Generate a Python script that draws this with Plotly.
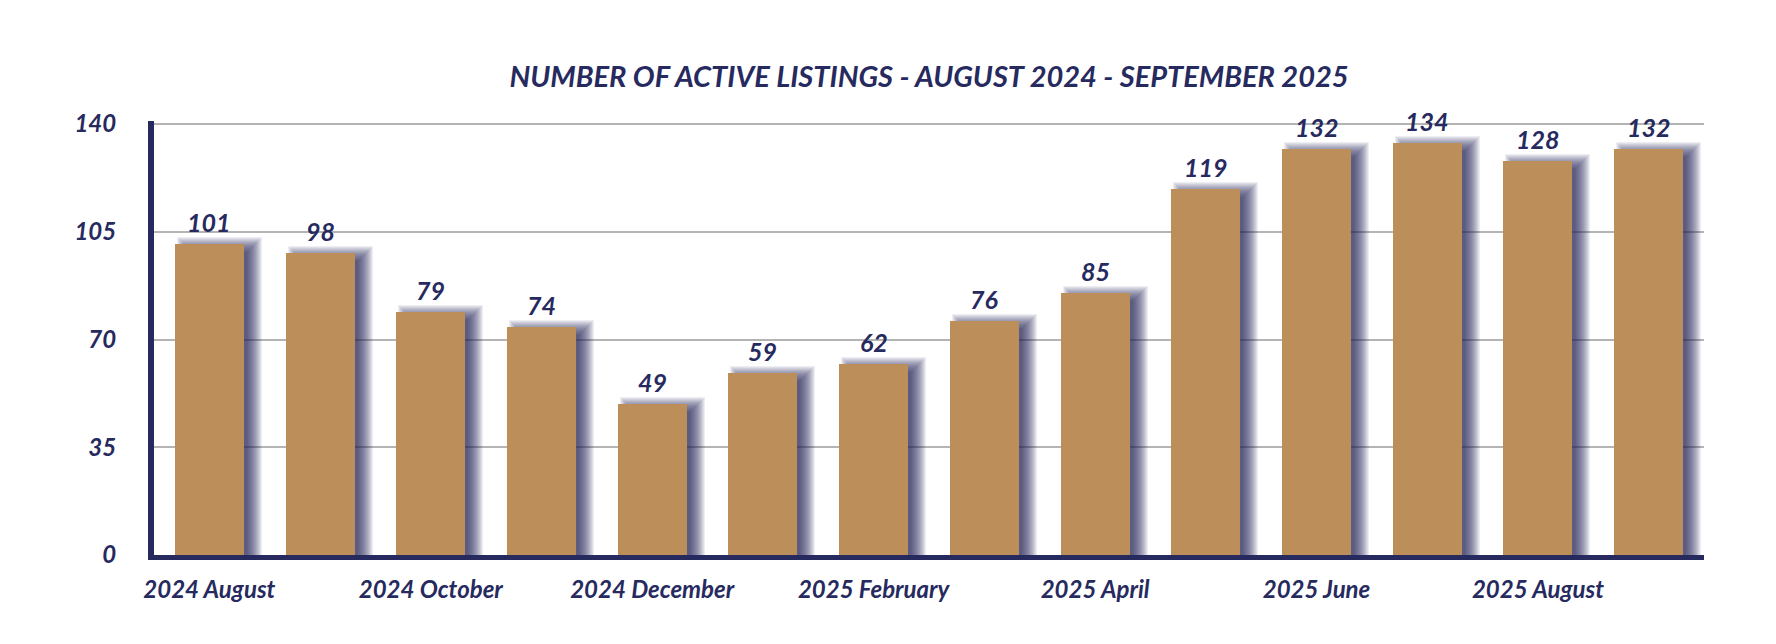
import plotly.graph_objects as go

# ---- data ----
months = ["2024 August", "2024 September", "2024 October", "2024 November",
          "2024 December", "2025 January", "2025 February", "2025 March",
          "2025 April", "2025 May", "2025 June", "2025 July",
          "2025 August", "2025 September"]
listings = [101, 98, 79, 74, 49, 59, 62, 76, 85, 119, 132, 134, 128, 132]
tick_labels = months[::2]
y_ticks = [0, 35, 70, 105, 140]
title_text = "NUMBER OF ACTIVE LISTINGS - AUGUST 2024 - SEPTEMBER 2025"

# ---- style ----
NAVY = "#262A5E"
GOLD = "#BC8F5A"
GRID = "#B4B4B4"
FONT = "Lato"
PAGE = 8                      # default body margin of the html page
W, H = 1776 - 2 * PAGE, 644 - 2 * PAGE
ML, MT = 154 - PAGE, 121 - PAGE
MR = (W + PAGE) - 1704
MB = (H + PAGE) - 555
YMAX = 141
plot_w = W - ML - MR
plot_h = H - MT - MB
px_x = plot_w / len(months)      # px per category
px_y = plot_h / YMAX             # px per unit
bar_px = 69
bw = bar_px / px_x

fig = go.Figure()

# blurred drop shadow: stacked translucent layers
dx, dy = 10, -1
for e in range(-7, 9):
    fig.add_trace(go.Bar(
        x=months, y=[v + (dy + e) / px_y for v in listings],
        width=(bar_px + 2 * e) / px_x,
        offset=(-bar_px / 2 + dx - e) / px_x,
        marker=dict(color="rgba(38,42,94,0.08)", line=dict(width=0)),
        hoverinfo="skip", showlegend=False))

fig.add_trace(go.Bar(
    x=months, y=listings, width=bw, offset=-bw / 2,
    marker=dict(color=GOLD, line=dict(width=0)),
    hoverinfo="skip", showlegend=False))

for m, v in zip(months, listings):
    fig.add_annotation(x=m, y=v, text=str(v), showarrow=False,
                       yanchor="bottom", yshift=5,
                       font=dict(family=FONT, size=25, color=NAVY,
                                 weight="bold", style="italic"))

fig.update_layout(
    width=W, height=H,
    margin=dict(l=ML, r=MR, t=MT, b=MB),
    paper_bgcolor="white", plot_bgcolor="white",
    barmode="overlay", bargap=0,
    title=dict(text=title_text, x=(ML + plot_w / 2) / W, xref="container",
               y=1 - (77 - PAGE) / H,
               yref="container", xanchor="center", yanchor="middle",
               font=dict(family=FONT, size=29, color=NAVY,
                         weight="bold", style="italic")),
)
fig.update_xaxes(
    type="category", categoryorder="array", categoryarray=months,
    tickvals=tick_labels, ticktext=tick_labels,
    showgrid=False, showline=True, linecolor=NAVY, linewidth=5,
    ticks="", ticklabelstandoff=9,
    tickfont=dict(family=FONT, size=24, color=NAVY, weight="bold", style="italic"),
    range=[-0.5, len(months) - 0.5], fixedrange=True)
fig.update_yaxes(
    range=[0, YMAX], tickvals=y_ticks,
    showgrid=True, gridcolor=GRID, gridwidth=2,
    zeroline=False, showline=True, linecolor=NAVY, linewidth=6,
    ticks="", ticklabelstandoff=27,
    tickfont=dict(family=FONT, size=24, color=NAVY, weight="bold", style="italic"),
    fixedrange=True)

fig.write_html("out.html")
